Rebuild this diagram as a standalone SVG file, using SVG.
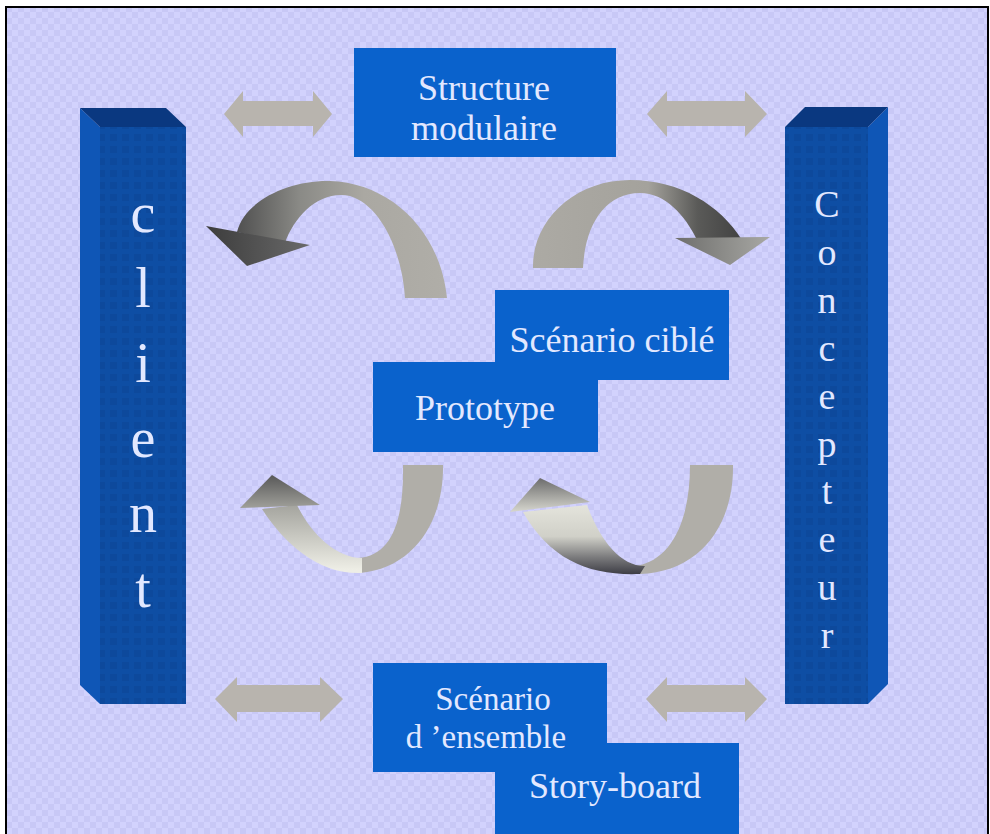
<svg xmlns="http://www.w3.org/2000/svg" width="990" height="834" viewBox="0 0 990 834">
<style>
.box{fill:#0a62cc}
.btxt{font-family:"Liberation Serif","DejaVu Serif",serif;font-size:36px;fill:#e2e8ff;text-anchor:middle}
.stxt{font-family:"Liberation Serif","DejaVu Serif",serif;font-size:33px;fill:#e2e8ff;text-anchor:middle}
.ptxt{font-family:"Liberation Serif","DejaVu Serif",serif;fill:#e2e8ff;text-anchor:middle}
.dbl{fill:#b8b4ae}
.front{fill:#0e4ea4}
.topf{fill:#0a3880}
.sidef{fill:#0f56b6}
</style>
<defs>
<pattern id="bg" width="12" height="12" patternUnits="userSpaceOnUse">
<rect width="12" height="12" fill="#d2d2fd"/>
<rect width="6" height="6" fill="#c8c8f6"/>
<rect x="6" y="6" width="6" height="6" fill="#c8c8f6"/>
</pattern>
<pattern id="grid" width="12" height="12" patternUnits="userSpaceOnUse">
<rect width="12" height="12" fill="none"/>
<rect x="2" y="2" width="7" height="7" fill="#0a3f8c" opacity="0.35"/>
</pattern>
<linearGradient id="gTL" gradientUnits="userSpaceOnUse" x1="235" y1="0" x2="450" y2="0">
<stop offset="0" stop-color="#4e4e4e"/>
<stop offset="0.3" stop-color="#8a8a86"/>
<stop offset="0.6" stop-color="#aaa8a2"/>
<stop offset="1" stop-color="#b0aea8"/>
</linearGradient>
<linearGradient id="gTLh" gradientUnits="userSpaceOnUse" x1="206" y1="0" x2="310" y2="0">
<stop offset="0" stop-color="#3c3c3c"/>
<stop offset="1" stop-color="#6a6a6a"/>
</linearGradient>
<linearGradient id="gTR" gradientUnits="userSpaceOnUse" x1="530" y1="0" x2="745" y2="0">
<stop offset="0" stop-color="#acaaa4"/>
<stop offset="0.55" stop-color="#a4a29c"/>
<stop offset="0.78" stop-color="#5a5a58"/>
<stop offset="1" stop-color="#404040"/>
</linearGradient>
<linearGradient id="gTRh" gradientUnits="userSpaceOnUse" x1="675" y1="0" x2="770" y2="0">
<stop offset="0" stop-color="#6e6e6c"/>
<stop offset="1" stop-color="#a8a8a4"/>
</linearGradient>
<linearGradient id="gBLh" gradientUnits="userSpaceOnUse" x1="0" y1="475" x2="0" y2="510">
<stop offset="0" stop-color="#585858"/>
<stop offset="1" stop-color="#a4a49e"/>
</linearGradient>
<linearGradient id="gBLa" gradientUnits="userSpaceOnUse" x1="0" y1="505" x2="0" y2="570">
<stop offset="0" stop-color="#a4a49e"/>
<stop offset="1" stop-color="#eeeee6"/>
</linearGradient>
<linearGradient id="gBRh" gradientUnits="userSpaceOnUse" x1="0" y1="478" x2="0" y2="512">
<stop offset="0" stop-color="#6c6c6c"/>
<stop offset="1" stop-color="#d6d6ce"/>
</linearGradient>
<linearGradient id="gBRa" gradientUnits="userSpaceOnUse" x1="0" y1="505" x2="0" y2="575">
<stop offset="0" stop-color="#e4e4dc"/>
<stop offset="0.45" stop-color="#d0d0c8"/>
<stop offset="0.75" stop-color="#7a7a7c"/>
<stop offset="1" stop-color="#3a3a42"/>
</linearGradient>
</defs>

<rect width="990" height="834" fill="#ffffff"/>
<rect x="6" y="7" width="982" height="840" fill="url(#bg)" stroke="#000000" stroke-width="2"/>

<g id="pillar-client">
<polygon class="front" points="100,127 186,127 186,704 100,704"/>
<rect x="100" y="127" width="86" height="577" fill="url(#grid)"/>
<polygon class="sidef" points="80,108 100,127 100,704 80,685"/>
<polygon class="topf" points="80,108 166,108 186,127 100,127"/>
<text class="ptxt" font-size="56" x="143" y="232">c</text>
<text class="ptxt" font-size="56" x="143" y="307">l</text>
<text class="ptxt" font-size="56" x="143" y="382">i</text>
<text class="ptxt" font-size="56" x="143" y="457">e</text>
<text class="ptxt" font-size="56" x="143" y="532">n</text>
<text class="ptxt" font-size="56" x="143" y="607">t</text>
</g>

<g id="pillar-concepteur">
<polygon class="front" points="785,127 868,127 868,704 785,704"/>
<rect x="785" y="127" width="83" height="577" fill="url(#grid)"/>
<polygon class="sidef" points="868,127 888,107 888,684 868,704"/>
<polygon class="topf" points="785,127 805,107 888,107 868,127"/>
<text class="ptxt" font-size="38" x="827" y="217">C</text>
<text class="ptxt" font-size="38" x="827" y="265">o</text>
<text class="ptxt" font-size="38" x="827" y="313">n</text>
<text class="ptxt" font-size="38" x="827" y="361">c</text>
<text class="ptxt" font-size="38" x="827" y="409">e</text>
<text class="ptxt" font-size="38" x="827" y="457">p</text>
<text class="ptxt" font-size="38" x="827" y="504">t</text>
<text class="ptxt" font-size="38" x="827" y="552">e</text>
<text class="ptxt" font-size="38" x="827" y="600">u</text>
<text class="ptxt" font-size="38" x="827" y="648">r</text>
</g>

<g id="box-structure">
<rect class="box" x="354" y="48" width="262" height="109"/>
<text class="btxt" x="484" y="100">Structure</text>
<text class="btxt" x="484" y="140">modulaire</text>
</g>

<g id="box-scenario-cible">
<rect class="box" x="495" y="290" width="234" height="90"/>
<text class="btxt" x="612" y="352">Scénario ciblé</text>
</g>

<g id="box-prototype">
<rect class="box" x="373" y="362" width="225" height="90"/>
<text class="btxt" x="485" y="420">Prototype</text>
</g>

<g id="box-storyboard">
<rect class="box" x="495" y="743" width="244" height="95"/>
<text class="btxt" x="615" y="798">Story-board</text>
</g>

<g id="box-scenario-ensemble">
<rect class="box" x="373" y="663" width="234" height="109"/>
<text class="stxt" x="493" y="710">Scénario</text>
<text class="stxt" x="486" y="748">d ’ensemble</text>
</g>

<g id="connectors">
<path class="dbl" d="M224,114 L243,91 L243,101 L313,101 L313,91 L332,114 L313,137 L313,126 L243,126 L243,137 Z"/>
<path class="dbl" d="M647,114 L667,91 L667,101 L745,101 L745,91 L767,114 L745,137 L745,126 L667,126 L667,137 Z"/>
<path class="dbl" d="M215,699 L237,677 L237,685 L320,685 L320,677 L343,699 L320,722 L320,712 L237,712 L237,722 Z"/>
<path class="dbl" d="M646,699 L667,677 L667,685 L745,685 L745,677 L767,699 L745,722 L745,712 L667,712 L667,722 Z"/>

<path fill="url(#gTL)" d="M237,232 C245,200 290,180 330,181 C390,183 440,230 447,298 L405,298 C402,250 380,205 350,196 C320,190 295,215 285,243 Z"/>
<polygon fill="url(#gTLh)" points="206,226 310,245 247,266"/>

<path fill="url(#gTR)" d="M533,268 C532,220 575,180 630,180 C680,180 720,205 742,240 L697,240 C685,215 665,193 640,193 C605,193 585,225 583,268 Z"/>
<polygon fill="url(#gTRh)" points="675,238 770,237 730,265"/>

<path fill="#b0aea8" d="M403,465 L443,465 C444,520 415,568 360,573 L358,558 C392,556 404,520 403,465 Z"/>
<path fill="url(#gBLa)" d="M362,573 C320,575 285,545 262,509 L297,505 C310,532 335,558 362,558 Z"/>
<polygon fill="url(#gBLh)" points="240,508 272,475 320,505"/>

<path fill="#b0aea8" d="M690,465 L733,465 C734,525 700,572 640,574 L636,566 C672,560 690,520 690,465 Z"/>
<path fill="url(#gBRa)" d="M640,574 C590,576 550,560 523,512 L587,505 C600,540 620,566 645,566 Z"/>
<polygon fill="url(#gBRh)" points="510,512 540,478 590,502"/>
</g>
</svg>
